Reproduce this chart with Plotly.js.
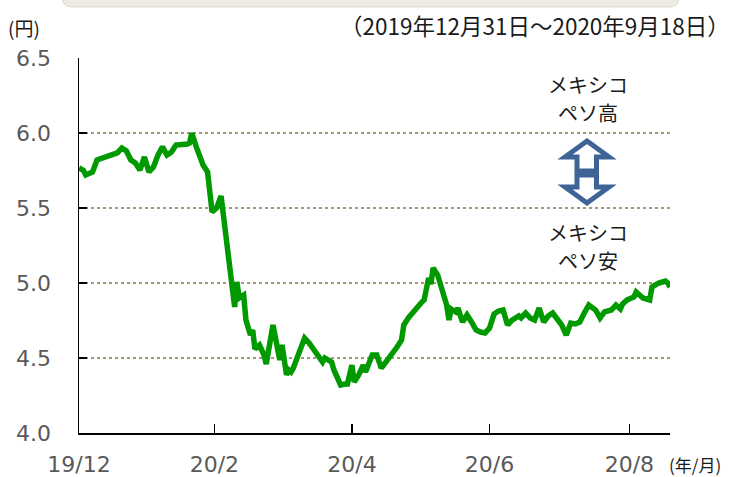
<!DOCTYPE html>
<html>
<head>
<meta charset="utf-8">
<script src="https://cdn.plot.ly/plotly-3.0.1.min.js"></script>
<style>html,body{margin:0;padding:0;background:#fff;}#chart{width:734px;height:477px;}</style>
</head>
<body>
<div id="chart"></div>
<script>
// MXN/JPY rate (円)
const dates = [
"2019-12-31","2020-01-02","2020-01-03","2020-01-06","2020-01-08","2020-01-10","2020-01-13","2020-01-15","2020-01-17","2020-01-19",
"2020-01-21","2020-01-23","2020-01-25","2020-01-27","2020-01-29","2020-01-31","2020-02-02","2020-02-04","2020-02-06","2020-02-08",
"2020-02-10","2020-02-12","2020-02-15","2020-02-17","2020-02-18","2020-02-19","2020-02-21","2020-02-24","2020-02-26","2020-02-28",
"2020-03-01","2020-03-03","2020-03-04","2020-03-06","2020-03-08","2020-03-09","2020-03-10","2020-03-11","2020-03-13","2020-03-14",
"2020-03-16","2020-03-17","2020-03-18","2020-03-20","2020-03-22","2020-03-23","2020-03-26","2020-03-28","2020-03-29","2020-03-30",
"2020-04-01","2020-04-02","2020-04-03","2020-04-04","2020-04-06","2020-04-07","2020-04-09","2020-04-11","2020-04-13","2020-04-15",
"2020-04-17","2020-04-18","2020-04-21","2020-04-22","2020-04-24","2020-04-25","2020-04-27","2020-04-28","2020-04-30","2020-05-01",
"2020-05-03","2020-05-05","2020-05-06","2020-05-08","2020-05-09","2020-05-11","2020-05-13","2020-05-15","2020-05-18","2020-05-20",
"2020-05-22","2020-05-23","2020-05-25","2020-05-26","2020-05-28","2020-05-30","2020-05-31","2020-06-01","2020-06-02","2020-06-03",
"2020-06-04","2020-06-05","2020-06-07","2020-06-09","2020-06-11","2020-06-12","2020-06-13","2020-06-15","2020-06-16","2020-06-18",
"2020-06-20","2020-06-22","2020-06-24","2020-06-26","2020-06-28","2020-06-30","2020-07-02","2020-07-04","2020-07-06","2020-07-08",
"2020-07-10","2020-07-13","2020-07-14","2020-07-16","2020-07-18","2020-07-20","2020-07-22","2020-07-24","2020-07-26","2020-07-28",
"2020-07-30","2020-08-01","2020-08-03","2020-08-05","2020-08-07","2020-08-09","2020-08-11","2020-08-13","2020-08-16","2020-08-18",
"2020-08-20","2020-08-23","2020-08-25","2020-08-27","2020-08-28","2020-08-30","2020-09-02","2020-09-03","2020-09-06","2020-09-09",
"2020-09-10","2020-09-13","2020-09-16","2020-09-17","2020-09-18"
];
const rates = [
5.767,5.75,5.72,5.74,5.82,5.83,5.84,5.853,5.867,5.90,
5.88,5.82,5.80,5.753,5.84,5.74,5.773,5.853,5.907,5.853,
5.873,5.92,5.92,5.927,5.933,6.0,5.907,5.787,5.74,5.473,
5.50,5.58,5.453,5.22,5.02,4.84,5.007,4.90,4.92,4.753,
4.653,4.687,4.56,4.587,4.52,4.46,4.72,4.553,4.487,4.587,
4.387,4.42,4.407,4.433,4.52,4.54,4.633,4.60,4.553,4.52,
4.473,4.50,4.473,4.42,4.353,4.32,4.327,4.327,4.453,4.34,
4.387,4.453,4.407,4.50,4.52,4.52,4.433,4.473,4.527,4.573,
4.62,4.72,4.767,4.787,4.827,4.867,4.873,4.887,4.987,5.033,
4.993,5.10,5.053,4.953,4.853,4.753,4.827,4.807,4.833,4.74,
4.787,4.74,4.687,4.673,4.667,4.70,4.793,4.813,4.82,4.72,
4.753,4.78,4.767,4.80,4.767,4.753,4.833,4.74,4.78,4.80,
4.753,4.72,4.653,4.733,4.727,4.74,4.80,4.853,4.82,4.767,
4.807,4.82,4.853,4.827,4.86,4.887,4.907,4.94,4.90,4.887,
4.973,5.00,5.013,5.00,4.973
];
const tickDates = ["2019-12-31","2020-02-29","2020-04-30","2020-06-30","2020-08-31"];
const tickLabels = ["19/12","20/2","20/4","20/6","20/8"];

// pixel -> paper helpers (plot area: x 79..670, y 58..433)
const L = 79, R = 670, T = 58, B = 433;
const px = p => (p - L) / (R - L);
const py = p => (B - p) / (B - T);
function path(pts) {
  return 'M' + pts.map(p => px(p[0]).toFixed(5) + ',' + py(p[1]).toFixed(5)).join(' L') + ' Z';
}
// rounded banner at top
function roundedBottomRect(x0, x1, y0, y1, r) {
  const f = (a, b) => px(a).toFixed(5) + ',' + py(b).toFixed(5);
  return 'M' + f(x0, y0) + ' L' + f(x0, y1 - r) + ' Q' + f(x0, y1) + ' ' + f(x0 + r, y1) +
    ' L' + f(x1 - r, y1) + ' Q' + f(x1, y1) + ' ' + f(x1, y1 - r) + ' L' + f(x1, y0) + ' Z';
}

const arrowColor = '#3E6496';
const shapes = [
  {type: 'path', xref: 'paper', yref: 'paper', path: roundedBottomRect(62, 679, -15, 7, 10),
   fillcolor: '#EEEBE2', line: {color: '#DCD8CC', width: 1}},
  {type: 'path', xref: 'paper', yref: 'paper',
   path: path([[587,141],[609,157],[596.5,157],[596.5,171],[577,171],[577,157],[565,157]]),
   fillcolor: '#FFFFFF', line: {color: arrowColor, width: 5}},
  {type: 'path', xref: 'paper', yref: 'paper',
   path: path([[577,175],[596.5,175],[596.5,187],[609,187],[587,203],[565,187],[577,187]]),
   fillcolor: '#FFFFFF', line: {color: arrowColor, width: 5}}
];

const jp = '"Noto Sans CJK JP", "Noto Sans", sans-serif';
const txtColor = '#1a1a1a';
function note(text, x, y, anchor, size) {
  return {text: text, xref: 'paper', yref: 'paper', x: px(x), y: py(y), xanchor: anchor, yanchor: 'middle',
    showarrow: false, borderpad: 0, font: {family: jp, size: size, color: txtColor}};
}
const annotations = [
  note('(円)', 7, 27, 'left', 19),
  note('（2019年12月31日～2020年9月18日）', 731, 25, 'right', 22.5),
  note('(年/月)', 668, 464, 'left', 17),
  note('メキシコ', 588, 85, 'center', 20),
  note('ペソ高', 588, 113, 'center', 20),
  note('メキシコ', 588, 232, 'center', 20),
  note('ペソ安', 588, 260, 'center', 20)
];

const trace = {
  x: dates, y: rates, type: 'scatter', mode: 'lines',
  line: {color: '#009900', width: 5.5}, hoverinfo: 'skip'
};

const layout = {
  width: 734, height: 477,
  margin: {l: L, r: 734 - R, t: T, b: 477 - B, pad: 0},
  paper_bgcolor: '#FFFFFF', plot_bgcolor: '#FFFFFF',
  showlegend: false,
  xaxis: {
    type: 'date', range: ['2019-12-31', '2020-09-18'],
    tickmode: 'array', tickvals: tickDates, ticktext: tickLabels,
    ticks: 'inside', ticklen: 9, tickwidth: 1.5, tickcolor: '#000',
    showline: true, linecolor: '#000', linewidth: 1.5,
    showgrid: false, zeroline: false,
    tickfont: {family: '"DejaVu Sans", Verdana, sans-serif', size: 22, color: '#595959'},
    ticklabelstandoff: 11, fixedrange: true
  },
  yaxis: {
    range: [4.0, 6.5], tickmode: 'linear', tick0: 4.0, dtick: 0.5, tickformat: '.1f',
    ticks: 'inside', ticklen: 8, tickwidth: 1.5, tickcolor: '#000',
    showline: true, linecolor: '#000', linewidth: 1.5,
    showgrid: true, gridcolor: '#A39A72', gridwidth: 1.5, griddash: 'dot',
    zeroline: false,
    tickfont: {family: '"DejaVu Sans", Verdana, sans-serif', size: 22, color: '#595959'},
    ticklabelstandoff: 22, fixedrange: true
  },
  shapes: shapes,
  annotations: annotations
};

Plotly.newPlot('chart', [trace], layout, {displayModeBar: false, staticPlot: true});
</script>
</body>
</html>
